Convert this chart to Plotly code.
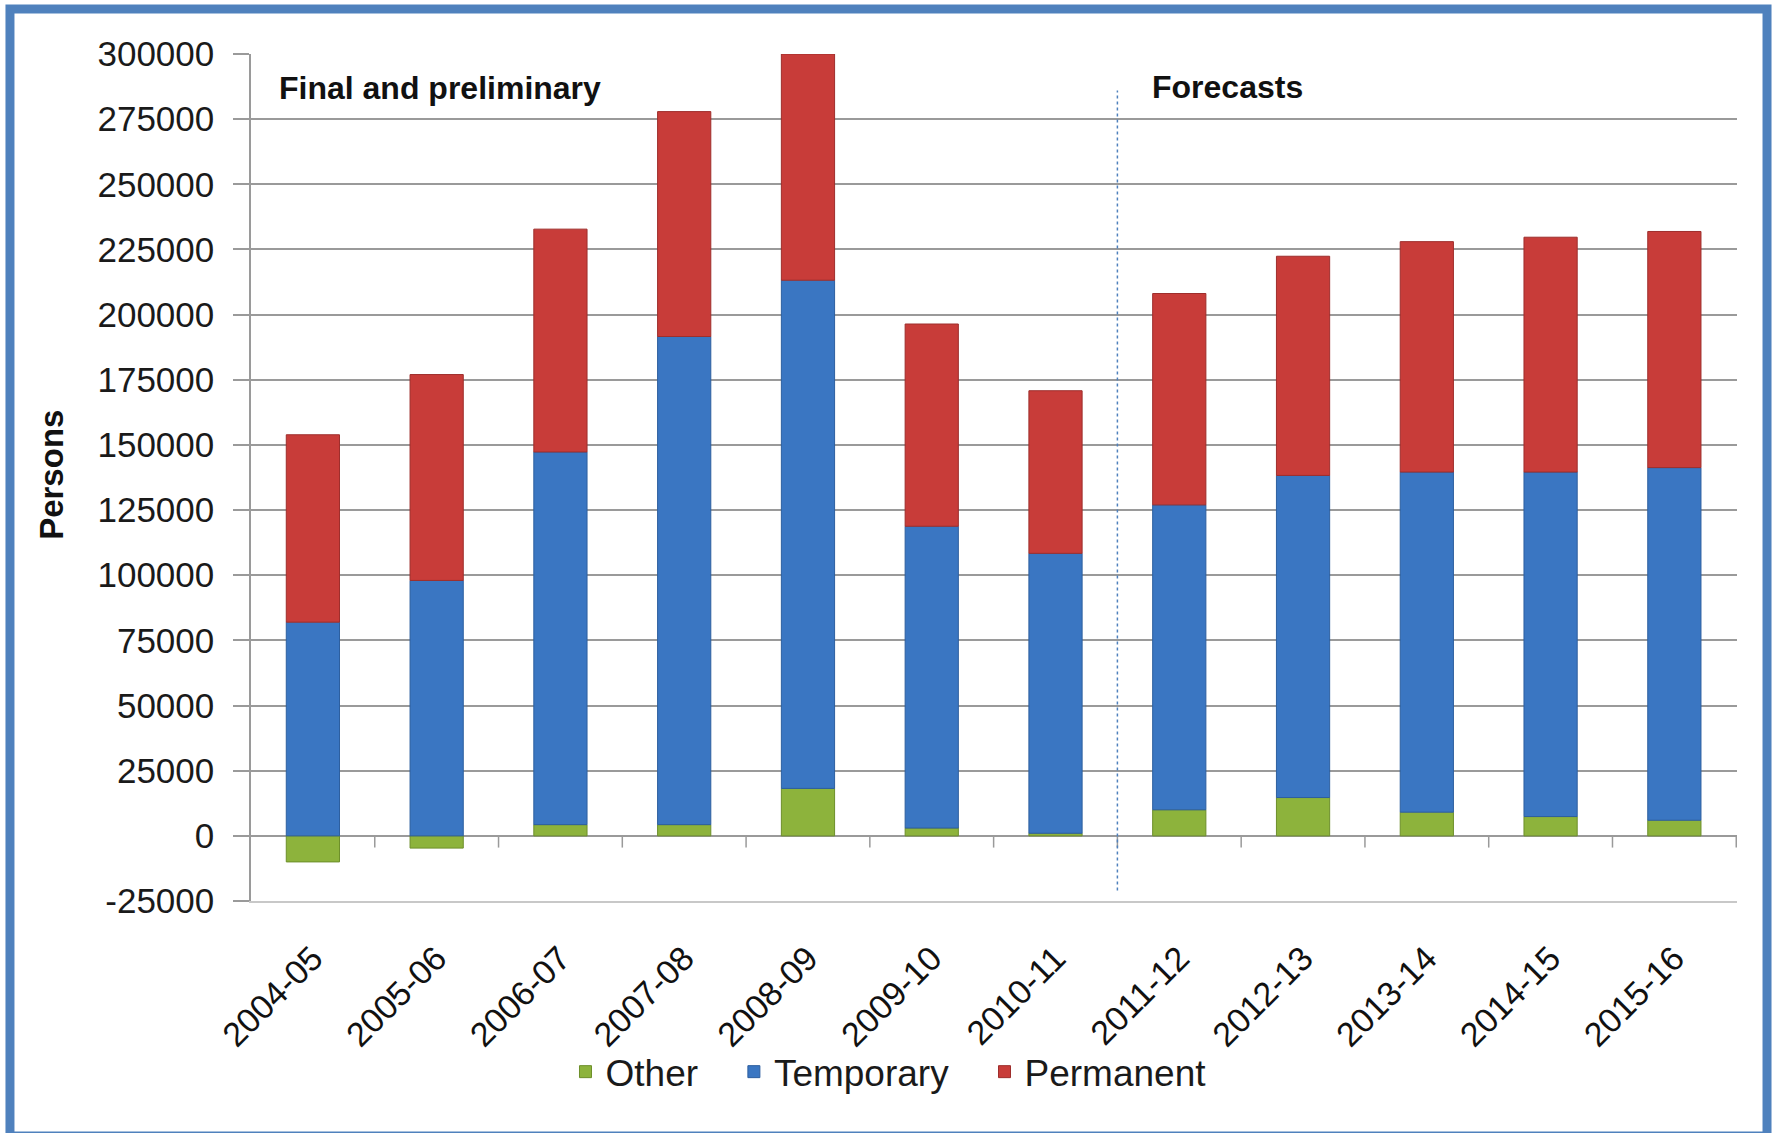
import plotly.graph_objects as go

categories = ["2004-05", "2005-06", "2006-07", "2007-08", "2008-09", "2009-10",
              "2010-11", "2011-12", "2012-13", "2013-14", "2014-15", "2015-16"]
other = [-10000, -4700, 4300, 4300, 18200, 3000, 1000, 10000, 14700, 9100, 7400, 6000]
temporary = [82000, 98000, 143000, 187300, 195000, 115800, 107400, 117000, 123600, 130500, 132200, 135300]
permanent = [71900, 79000, 85500, 86300, 86800, 77600, 62400, 81100, 84100, 88400, 90100, 90600]
y_ticks = list(range(-25000, 300001, 25000))
y_ticktext = [str(v) for v in y_ticks]
legend_names = ["Other", "Temporary", "Permanent"]

FONT = "Liberation Sans, Arial, sans-serif"
GRID = "#9a9a9a"
PAD = "\u00a0" * 3

fig = go.Figure()
fig.add_trace(go.Bar(name=legend_names[0] + PAD, x=categories, y=other,
                     marker=dict(color="#8db33c", line=dict(color="#6d8f2a", width=1))))
fig.add_trace(go.Bar(name=legend_names[1] + PAD, x=categories, y=temporary,
                     marker=dict(color="#3a76c2", line=dict(color="#2d5f9f", width=1))))
fig.add_trace(go.Bar(name=legend_names[2], x=categories, y=permanent,
                     marker=dict(color="#c83c39", line=dict(color="#9e2e2c", width=1))))

shapes = []
for i in range(len(categories)):
    shapes.append(dict(type="line", xref="x", yref="y", x0=i + 0.5, x1=i + 0.5,
                       y0=0, y1=-4500, line=dict(color=GRID, width=1.5)))
shapes.append(dict(type="line", xref="x", yref="y", x0=6.5, x1=6.5, y0=-21000, y1=286000,
                   line=dict(color="#4f81bd", width=1.5, dash="dot")))
shapes.append(dict(type="rect", xref="paper", yref="paper",
                   x0=-0.1622, x1=1.0202, y0=-0.2775, y1=1.0531,
                   line=dict(color="#4f81bd", width=9)))

fig.update_layout(
    width=1773, height=1133,
    margin=dict(l=251, r=36, t=54, b=232),
    paper_bgcolor="white", plot_bgcolor="white",
    barmode="relative", bargap=0.57,
    font=dict(family=FONT, color="#1a1a1a"),
    shapes=shapes,
    showlegend=True,
    legend=dict(orientation="h", x=0.429, xanchor="center", y=-0.202, yanchor="middle",
                bgcolor="rgba(0,0,0,0)",
                font=dict(size=37, family=FONT), itemwidth=30, traceorder="normal"),
    annotations=[
        dict(text="<b>Final and preliminary</b>", xref="paper", yref="paper",
             x=0.0175, y=0.960, xanchor="left", yanchor="middle", showarrow=False,
             font=dict(size=32, family=FONT, color="#111111")),
        dict(text="<b>Forecasts</b>", xref="paper", yref="paper",
             x=0.605, y=0.961, xanchor="left", yanchor="middle", showarrow=False,
             font=dict(size=32, family=FONT, color="#111111")),
        dict(text="<b>Persons</b>", xref="paper", yref="paper",
             x=-0.134, y=0.503, xanchor="center", yanchor="middle", showarrow=False,
             textangle=-90, font=dict(size=33, family=FONT, color="#111111")),
    ],
)
fig.update_xaxes(type="category", showgrid=False, showline=True, linecolor="#c8c8c8",
                 linewidth=1.5, ticks="outside", ticklen=22, tickcolor="rgba(0,0,0,0)",
                 tickangle=-45, tickfont=dict(size=34, family=FONT, color="#111111"),
                 zeroline=False)
fig.update_yaxes(range=[-25000, 300000], tickvals=y_ticks, ticktext=y_ticktext,
                 showgrid=True, gridcolor=GRID,
                 gridwidth=1.5, zeroline=True, zerolinecolor=GRID, zerolinewidth=2,
                 showline=True, linecolor=GRID, linewidth=1.5, ticks="outside", ticklen=16,
                 tickcolor=GRID, tickwidth=1.5, ticklabelstandoff=12,
                 tickfont=dict(size=35, family=FONT, color="#1a1a1a"))

fig.write_html("out.html", config={"displayModeBar": False},
               post_script="document.body.style.margin='0';")
